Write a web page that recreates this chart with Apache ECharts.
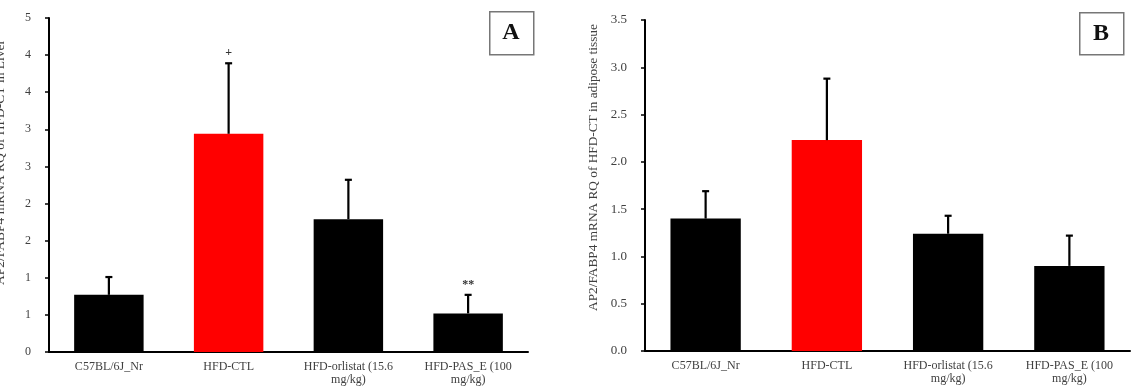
<!DOCTYPE html>
<html>
<head>
<meta charset="utf-8">
<script src="https://cdn.jsdelivr.net/npm/echarts@6/dist/echarts.min.js"></script>
<style>
  html, body { margin: 0; padding: 0; background: #fff; }
  #chart { width: 1136px; height: 387px; }
</style>
</head>
<body>
<div id="chart"></div>
<script>
// groups on the x axis
const categories = ['C57BL/6J_Nr', 'HFD-CTL', 'HFD-orlistat (15.6\nmg/kg)', 'HFD-PAS_E (100\nmg/kg)'];
const barColors = ['#000000', '#ff0000', '#000000', '#000000'];

// panel A - liver
const liverMean = [0.77, 2.94, 1.79, 0.52];
const liverErr = [0.24, 0.95, 0.53, 0.25];
const liverMarks = ['', '+', '', '**'];

// panel B - adipose tissue
const adiposeMean = [1.40, 2.23, 1.24, 0.90];
const adiposeErr = [0.29, 0.65, 0.19, 0.32];
const adiposeMarks = ['', '', '', ''];

const FONT = '"Liberation Serif", "Times New Roman", serif';

const chart = echarts.init(document.getElementById('chart'));

// error bar (up only) + significance mark above it
const errorBars = (mean, err, marks, idx) => ({
  type: 'custom',
  xAxisIndex: idx,
  yAxisIndex: idx,
  z: 5,
  data: mean.map((m, i) => [i, m, m + err[i]]),
  renderItem: (params, api) => {
    const bottom = api.coord([api.value(0), api.value(1)]);
    const top = api.coord([api.value(0), api.value(2)]);
    const children = [
      { type: 'line', shape: { x1: bottom[0], y1: bottom[1], x2: top[0], y2: top[1] }, style: { stroke: '#000', lineWidth: 2.2 } },
      { type: 'line', shape: { x1: top[0] - 3.5, y1: top[1], x2: top[0] + 3.5, y2: top[1] }, style: { stroke: '#000', lineWidth: 2.2 } }
    ];
    const mark = marks[params.dataIndex];
    if (mark) {
      children.push({
        type: 'text',
        style: { text: mark, x: top[0], y: top[1] - 10, align: 'center', verticalAlign: 'middle', fill: '#333', font: 'bold 12px ' + FONT }
      });
    }
    return { type: 'group', children };
  }
});

const xAxisCommon = {
  type: 'category',
  data: categories,
  axisLine: { lineStyle: { color: '#000', width: 2 } },
  axisTick: { length: 4, lineStyle: { color: '#000', width: 1.5 } },
  axisLabel: { color: '#404040', fontFamily: FONT, fontSize: 12, lineHeight: 13, margin: 8, interval: 0 }
};

const yAxisCommon = {
  type: 'value',
  min: 0,
  interval: 0.5,
  splitLine: { show: false },
  axisLine: { show: true, lineStyle: { color: '#000', width: 2 } },
  axisTick: { show: true, length: 4, lineStyle: { color: '#000', width: 1.5 } },
  nameLocation: 'middle',
  nameRotate: 90
};

chart.setOption({
  animation: false,
  grid: [
    { left: 49, right: 608, top: 18, bottom: 35, containLabel: false, outerBoundsMode: 'none' },
    { left: 645, right: 6, top: 20, bottom: 36, containLabel: false, outerBoundsMode: 'none' }
  ],
  xAxis: [
    Object.assign({ gridIndex: 0 }, xAxisCommon),
    Object.assign({ gridIndex: 1 }, xAxisCommon)
  ],
  yAxis: [
    Object.assign({}, yAxisCommon, {
      gridIndex: 0,
      max: 4.5,
      name: 'AP2/FABP4 mRNA RQ of HFD-CT in Liver',
      nameGap: 42,
      nameTextStyle: { color: '#404040', fontFamily: FONT, fontSize: 13.5, padding: [0, 0, 0, 45] },
      axisLabel: { color: '#404040', fontFamily: FONT, fontSize: 12, margin: 18, formatter: (v) => String(Math.round(v)) }
    }),
    Object.assign({}, yAxisCommon, {
      gridIndex: 1,
      max: 3.5,
      name: 'AP2/FABP4 mRNA RQ of HFD-CT in adipose tissue',
      nameGap: 45,
      nameTextStyle: { color: '#404040', fontFamily: FONT, fontSize: 13.3, padding: [0, 0, 0, 36] },
      axisLabel: { color: '#404040', fontFamily: FONT, fontSize: 13, margin: 18, formatter: (v) => v.toFixed(1) }
    })
  ],
  series: [
    {
      type: 'bar',
      xAxisIndex: 0,
      yAxisIndex: 0,
      barWidth: '58%',
      data: liverMean.map((v, i) => ({ value: v, itemStyle: { color: barColors[i] } }))
    },
    errorBars(liverMean, liverErr, liverMarks, 0),
    {
      type: 'bar',
      xAxisIndex: 1,
      yAxisIndex: 1,
      barWidth: '58%',
      data: adiposeMean.map((v, i) => ({ value: v, itemStyle: { color: barColors[i] } }))
    },
    errorBars(adiposeMean, adiposeErr, adiposeMarks, 1)
  ],
  graphic: [
    { type: 'rect', left: 489, top: 11, shape: { width: 44, height: 43 }, style: { fill: '#fff', stroke: '#777', lineWidth: 1.5 } },
    { type: 'text', x: 511, y: 33, style: { text: 'A', font: 'bold 24px ' + FONT, fill: '#111', align: 'center', verticalAlign: 'middle' } },
    { type: 'rect', left: 1079, top: 12, shape: { width: 44, height: 42 }, style: { fill: '#fff', stroke: '#777', lineWidth: 1.5 } },
    { type: 'text', x: 1101, y: 34, style: { text: 'B', font: 'bold 24px ' + FONT, fill: '#111', align: 'center', verticalAlign: 'middle' } }
  ]
});
</script>
</body>
</html>
